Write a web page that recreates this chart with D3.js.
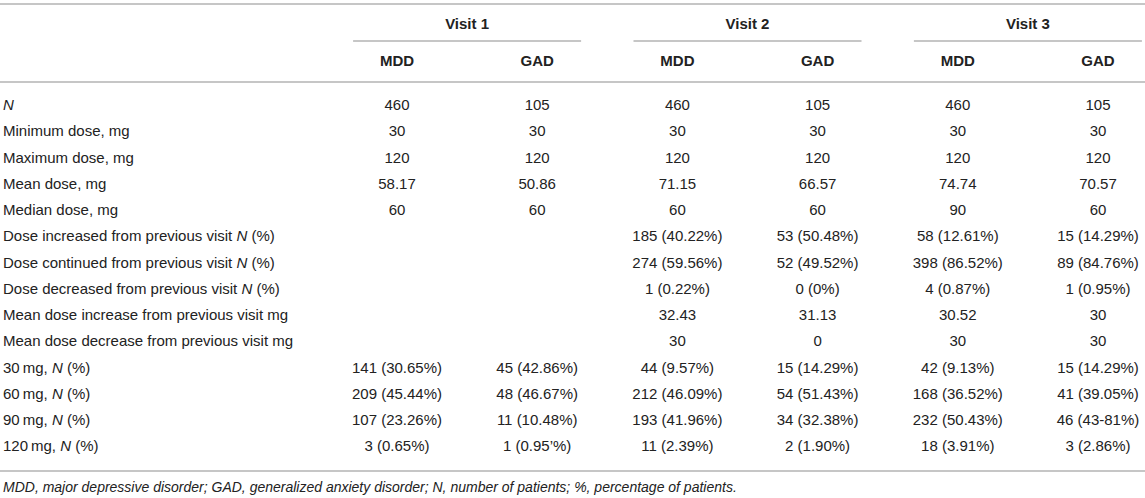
<!DOCTYPE html>
<html>
<head>
<meta charset="utf-8">
<script src="https://cdn.jsdelivr.net/npm/d3@7"></script>
<style>
  body { margin: 0; background: #fff; }
  text { font-family: "Liberation Sans", Arial, Helvetica, sans-serif; fill: #222; }
</style>
</head>
<body>
<div id="table"></div>
<script>
// Table content
var visits = ["Visit 1", "Visit 2", "Visit 3"];
var groups = ["MDD", "GAD"];

var rowLabels = [
  "N",
  "Minimum dose, mg",
  "Maximum dose, mg",
  "Mean dose, mg",
  "Median dose, mg",
  "Dose increased from previous visit N (%)",
  "Dose continued from previous visit N (%)",
  "Dose decreased from previous visit N (%)",
  "Mean dose increase from previous visit mg",
  "Mean dose decrease from previous visit mg",
  "30\u2009mg, N (%)",
  "60\u2009mg, N (%)",
  "90\u2009mg, N (%)",
  "120\u2009mg, N (%)"
];

var visit1MDD = ["460", "30", "120", "58.17", "60", "", "", "", "", "",
  "141 (30.65%)", "209 (45.44%)", "107 (23.26%)", "3 (0.65%)"];
var visit1GAD = ["105", "30", "120", "50.86", "60", "", "", "", "", "",
  "45 (42.86%)", "48 (46.67%)", "11 (10.48%)", "1 (0.95\u2019%)"];
var visit2MDD = ["460", "30", "120", "71.15", "60", "185 (40.22%)", "274 (59.56%)", "1 (0.22%)", "32.43", "30",
  "44 (9.57%)", "212 (46.09%)", "193 (41.96%)", "11 (2.39%)"];
var visit2GAD = ["105", "30", "120", "66.57", "60", "53 (50.48%)", "52 (49.52%)", "0 (0%)", "31.13", "0",
  "15 (14.29%)", "54 (51.43%)", "34 (32.38%)", "2 (1.90%)"];
var visit3MDD = ["460", "30", "120", "74.74", "90", "58 (12.61%)", "398 (86.52%)", "4 (0.87%)", "30.52", "30",
  "42 (9.13%)", "168 (36.52%)", "232 (50.43%)", "18 (3.91%)"];
var visit3GAD = ["105", "30", "120", "70.57", "60", "15 (14.29%)", "89 (84.76%)", "1 (0.95%)", "30", "30",
  "15 (14.29%)", "41 (39.05%)", "46 (43-81%)", "3 (2.86%)"];

var footnote = "MDD, major depressive disorder; GAD, generalized anxiety disorder; N, number of patients; %, percentage of patients.";

var columns = [visit1MDD, visit1GAD, visit2MDD, visit2GAD, visit3MDD, visit3GAD];

// Layout
var width = 1145, height = 498;
var ruleColor = "#b3b3b3";

var svg = d3.select("#table").append("svg")
    .attr("width", width)
    .attr("height", height);

// Column scale: one point per visit/group pair
var colKeys = [];
visits.forEach(function(v) { groups.forEach(function(g) { colKeys.push(v + "|" + g); }); });
var x = d3.scalePoint()
    .domain(colKeys)
    .range([397, 1098]);

// Row scale
var y = d3.scalePoint()
    .domain(d3.range(rowLabels.length))
    .range([105, 446]);

function visitCenter(v) {
  return (x(v + "|" + groups[0]) + x(v + "|" + groups[1])) / 2;
}

// Horizontal rules
function rule(x1, x2, yy) {
  svg.append("line")
      .attr("x1", x1).attr("x2", x2)
      .attr("y1", yy).attr("y2", yy)
      .attr("stroke", ruleColor)
      .attr("stroke-width", 1.5);
}
rule(0, width, 4);
rule(0, width, 82);
rule(0, width, 471);

// Visit headers and their underlines
svg.selectAll(".visit")
    .data(visits)
    .enter().append("text")
    .attr("class", "visit")
    .attr("x", function(d) { return visitCenter(d); })
    .attr("y", 24)
    .attr("dy", "0.35em")
    .attr("text-anchor", "middle")
    .attr("font-weight", "bold")
    .attr("font-size", 15)
    .text(function(d) { return d; });

visits.forEach(function(v) {
  var c = visitCenter(v);
  rule(c - 114, Math.min(c + 114, width), 41);
});

// Group headers
svg.selectAll(".group")
    .data(colKeys)
    .enter().append("text")
    .attr("class", "group")
    .attr("x", function(d) { return x(d); })
    .attr("y", 61)
    .attr("dy", "0.35em")
    .attr("text-anchor", "middle")
    .attr("font-weight", "bold")
    .attr("font-size", 15)
    .text(function(d) { return d.split("|")[1]; });

// Row labels, with N set in italic
var labels = svg.selectAll(".rowlabel")
    .data(rowLabels)
    .enter().append("text")
    .attr("class", "rowlabel")
    .attr("x", 3)
    .attr("y", function(d, i) { return y(i); })
    .attr("dy", "0.35em")
    .attr("font-size", 15);

labels.each(function(d) {
  var t = d3.select(this);
  var parts = d.split("N");
  parts.forEach(function(p, j) {
    if (j > 0) t.append("tspan").attr("font-style", "italic").text("N");
    if (p) t.append("tspan").text(p);
  });
});

// Cell values
columns.forEach(function(col, ci) {
  svg.selectAll(".cell" + ci)
      .data(col)
      .enter().append("text")
      .attr("class", "cell" + ci)
      .attr("x", x(colKeys[ci]))
      .attr("y", function(d, i) { return y(i); })
      .attr("dy", "0.35em")
      .attr("text-anchor", "middle")
      .attr("font-size", 15)
      .text(function(d) { return d; });
});

// Footnote
svg.append("text")
    .attr("x", 3)
    .attr("y", 487)
    .attr("dy", "0.35em")
    .attr("font-style", "italic")
    .attr("font-size", 14)
    .text(footnote);
</script>
</body>
</html>
